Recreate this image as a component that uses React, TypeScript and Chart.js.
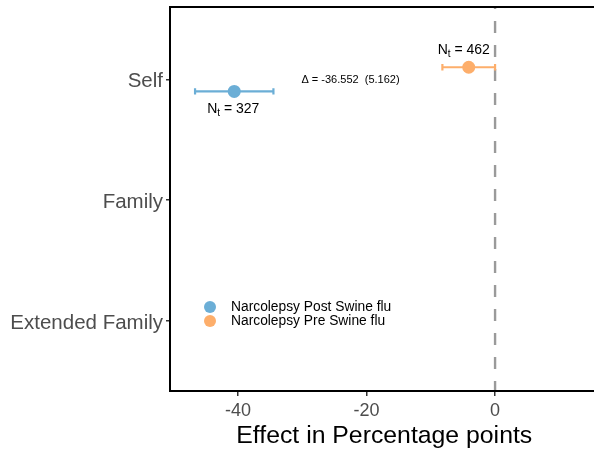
import React, { useEffect, useRef } from 'react';
import { Chart, registerables } from 'chart.js';

Chart.register(...registerables);

// ---- data ----
const categories = ['Extended Family', 'Family', 'Self'];
const seriesNames = ['Narcolepsy Post Swine flu', 'Narcolepsy Pre Swine flu'];
const seriesColors = ['#6baed6', '#fdae6b'];
const seriesCategory = ['Self', 'Self'];
const seriesEstimate = [-40.6, -4.1];
const seriesLower = [-46.7, -8.2];
const seriesUpper = [-34.5, 0.0];
const seriesN = [327, 462];
const seriesDodge = [-0.1, 0.1];
const xTicks = [-40, -20, 0];
const deltaText = 'Δ = -36.552  (5.162)';
const deltaX = -22.5;
const deltaCategory = 'Self';
const xTitle = 'Effect in Percentage points';

const SANS = '"Liberation Sans", Arial, Helvetica, sans-serif';

const noPad = (s: any) => {
  s.paddingTop = 0;
  s.paddingBottom = 0;
  s.paddingLeft = 0;
  s.paddingRight = 0;
};

const overlay = {
  id: 'overlay',
  beforeDatasetsDraw(chart: any) {
    const { ctx, chartArea: a, scales } = chart;
    const x = scales.x;
    ctx.save();
    // reference line at 0
    ctx.strokeStyle = '#9a9a9a';
    ctx.lineWidth = 2.4;
    ctx.setLineDash([12, 12]);
    ctx.lineDashOffset = 10;
    ctx.beginPath();
    const x0 = x.getPixelForValue(0);
    ctx.moveTo(x0, a.top);
    ctx.lineTo(x0, a.bottom);
    ctx.stroke();
    ctx.setLineDash([]);
    // error bars
    seriesNames.forEach((_, i) => {
      const y = scales.y.getPixelForValue(categories.indexOf(seriesCategory[i]) + seriesDodge[i]);
      const xl = x.getPixelForValue(seriesLower[i]);
      const xu = x.getPixelForValue(seriesUpper[i]);
      ctx.strokeStyle = seriesColors[i];
      ctx.lineWidth = 2.2;
      ctx.beginPath();
      ctx.moveTo(xl, y);
      ctx.lineTo(xu, y);
      ctx.moveTo(xl, y - 3.2);
      ctx.lineTo(xl, y + 3.2);
      ctx.moveTo(xu, y - 3.2);
      ctx.lineTo(xu, y + 3.2);
      ctx.stroke();
    });
    ctx.restore();
  },
  afterDraw(chart: any) {
    const { ctx, chartArea: a, scales } = chart;
    const x = scales.x;
    const yS = scales.y;
    ctx.save();
    // panel border
    ctx.strokeStyle = '#000';
    ctx.lineWidth = 2;
    ctx.strokeRect(a.left, a.top, a.right - a.left, a.bottom - a.top);

    // N labels
    seriesNames.forEach((_, i) => {
      const px = x.getPixelForValue(seriesEstimate[i]);
      const py = yS.getPixelForValue(categories.indexOf(seriesCategory[i]) + seriesDodge[i]);
      const below = seriesDodge[i] < 0;
      const base = below ? py + 22 : py - 13;
      ctx.fillStyle = '#000';
      ctx.textBaseline = 'alphabetic';
      ctx.textAlign = 'left';
      ctx.font = `14px ${SANS}`;
      const wN = ctx.measureText('N').width;
      const rest = ` = ${seriesN[i]}`;
      const wR = ctx.measureText(rest).width;
      ctx.font = `10px ${SANS}`;
      const wT = ctx.measureText('t').width;
      const total = wN + wT + wR;
      let sx = px - total / 2 - (below ? 1 : 5);
      ctx.font = `14px ${SANS}`;
      ctx.fillText('N', sx, base);
      sx += wN;
      ctx.font = `10px ${SANS}`;
      ctx.fillText('t', sx, base + 3);
      sx += wT;
      ctx.font = `14px ${SANS}`;
      ctx.fillText(rest, sx, base);
    });

    // delta text
    ctx.font = `11px ${SANS}`;
    ctx.fillStyle = '#000';
    ctx.textAlign = 'center';
    ctx.textBaseline = 'middle';
    ctx.fillText(deltaText, x.getPixelForValue(deltaX), yS.getPixelForValue(categories.indexOf(deltaCategory)) + 1);

    // legend
    const lx = a.left + 40;
    const ly = 307;
    seriesNames.forEach((name, i) => {
      const cy = ly + i * 14;
      ctx.fillStyle = seriesColors[i];
      ctx.beginPath();
      ctx.arc(lx, cy, 6, 0, Math.PI * 2);
      ctx.fill();
      ctx.fillStyle = '#000';
      ctx.font = `13.8px ${SANS}`;
      ctx.textAlign = 'left';
      ctx.textBaseline = 'middle';
      ctx.fillText(name, lx + 21, cy + 0.5);
    });

    // x title
    ctx.fillStyle = '#000';
    ctx.font = `24.8px ${SANS}`;
    ctx.textAlign = 'center';
    ctx.textBaseline = 'alphabetic';
    ctx.fillText(xTitle, (a.left + a.right) / 2, 443);
    ctx.restore();
  },
};

export default function App() {
  const ref = useRef<HTMLCanvasElement | null>(null);
  useEffect(() => {
    if (!ref.current) return;
    const chart = new Chart(ref.current, {
      type: 'scatter',
      data: {
        datasets: seriesNames.map((name, i) => ({
          label: name,
          data: [
            {
              x: seriesEstimate[i],
              y: categories.indexOf(seriesCategory[i]) + seriesDodge[i],
            },
          ],
          backgroundColor: seriesColors[i],
          borderWidth: 0,
          pointRadius: 6.5,
          pointHoverRadius: 6.5,
        })),
      },
      options: {
        animation: false,
        responsive: false,
        events: [],
        layout: { padding: { left: 0, right: 3, top: 7, bottom: 0 } },
        plugins: { legend: { display: false }, tooltip: { enabled: false } },
        scales: {
          x: {
            type: 'linear',
            min: -50.6,
            max: 16.1,
            afterBuildTicks: (s: any) => {
              s.ticks = xTicks.map((v) => ({ value: v }));
            },
            afterFit: (s: any) => {
              s.height = 58;
              noPad(s);
            },
            grid: {
              display: true,
              drawOnChartArea: false,
              drawTicks: true,
              tickLength: 5,
              color: '#333',
              lineWidth: 1.5,
            },
            border: { display: false },
            ticks: {
              color: '#4d4d4d',
              font: { family: SANS, size: 18 },
              padding: 4,
              maxRotation: 0,
              callback: (v: any) => String(v),
            },
          },
          y: {
            type: 'linear',
            min: -0.582,
            max: 2.599,
            afterBuildTicks: (s: any) => {
              s.ticks = categories.map((_, i) => ({ value: i }));
            },
            afterFit: (s: any) => {
              s.width = 170;
              noPad(s);
            },
            grid: {
              display: true,
              drawOnChartArea: false,
              drawTicks: true,
              tickLength: 4,
              color: '#333',
              lineWidth: 1.5,
            },
            border: { display: false },
            ticks: {
              color: '#4d4d4d',
              font: { family: SANS, size: 20.5 },
              padding: 3,
              labelOffset: 2.5,
              callback: (v: any) => categories[Math.round(Number(v))] ?? '',
            },
          },
        },
      },
      plugins: [overlay],
    });
    return () => chart.destroy();
  }, []);

  return (
    <div
      style={{
        position: 'fixed',
        left: 0,
        top: 0,
        width: 594,
        height: 449,
        overflow: 'hidden',
        background: '#fff',
      }}
    >
      <canvas ref={ref} width={605} height={449} style={{ display: 'block', width: 605, height: 449 }} />
    </div>
  );
}
